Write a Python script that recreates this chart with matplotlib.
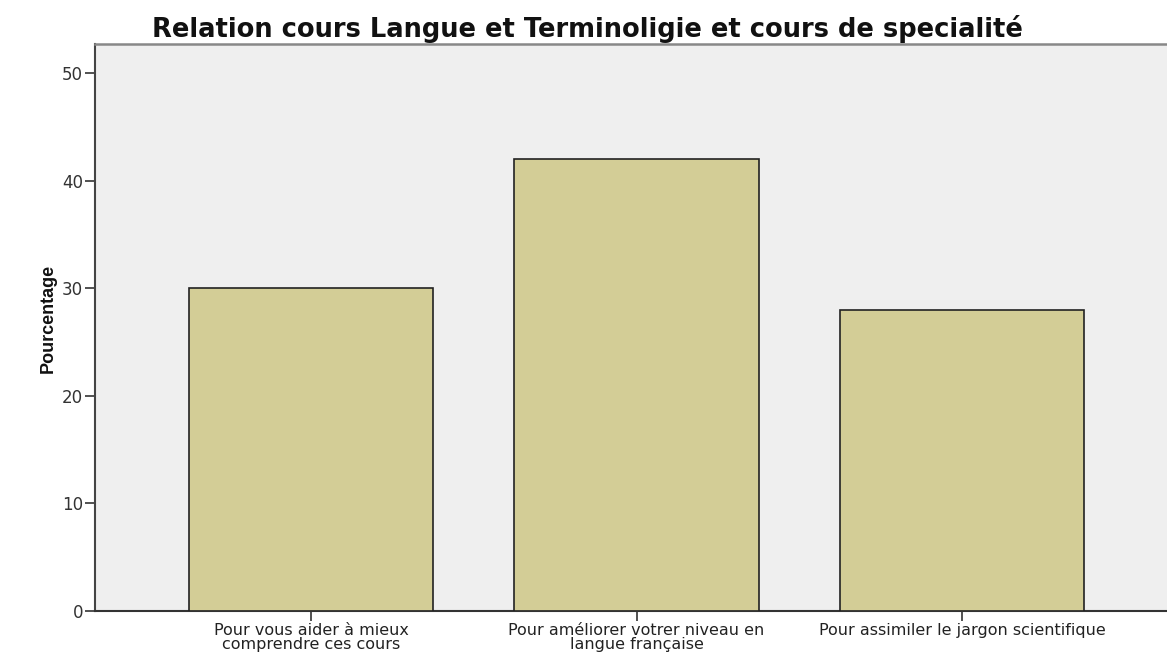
import matplotlib
matplotlib.use("Agg")
import matplotlib.pyplot as plt

categories = ["Pour vous aider à mieux\ncomprendre ces cours",
              "Pour améliorer votrer niveau en\nlangue française",
              "Pour assimiler le jargon scientifique"]
values = [30, 42, 28]
yticks = [0, 10, 20, 30, 40, 50]
title = "Relation cours Langue et Terminoligie et cours de specialité"
ylabel = "Pourcentage"

plt.rcParams['font.family'] = ['DejaVu Sans']

fig = plt.figure(figsize=(11.67, 6.53), dpi=100)
ax = fig.add_axes([95/1167, 1-611/653, 1-95/1167, (611-44)/653])
ax.set_facecolor('#EFEFEF')

x = list(range(len(categories)))
ax.bar(x, values, width=0.75, color='#D3CD96', edgecolor='#222222', linewidth=1.2, zorder=3)

ax.set_xlim(-0.664, 2.63)
ax.set_ylim(0, 52.7)
ax.set_yticks(yticks)
ax.set_yticklabels([str(t) for t in yticks], fontsize=12, color='#333333')
ax.set_xticks(x)
ax.set_xticklabels(categories, fontsize=11.5, color='#222222', linespacing=0.92)
ax.tick_params(axis='both', direction='out', length=7, width=1.2, color='#333333', pad=1.5)

ax.spines['right'].set_visible(False)
ax.spines['left'].set_color('#444444')
ax.spines['left'].set_linewidth(1.5)
ax.spines['bottom'].set_color('#333333')
ax.spines['bottom'].set_linewidth(1.5)
ax.spines['top'].set_color('#888888')
ax.spines['top'].set_linewidth(1.8)

fig.text(587/1167, 1-29/653, title, fontsize=18.5, fontweight='bold', ha='center', va='center', color='#111111')
fig.text(48/1167, 1-318/653, ylabel, fontsize=13, fontweight='bold', rotation=90, ha='center', va='center',
         family=['Liberation Sans Narrow', 'Liberation Sans', 'DejaVu Sans'], color='#111111')

fig.savefig("out.png", dpi=100)
